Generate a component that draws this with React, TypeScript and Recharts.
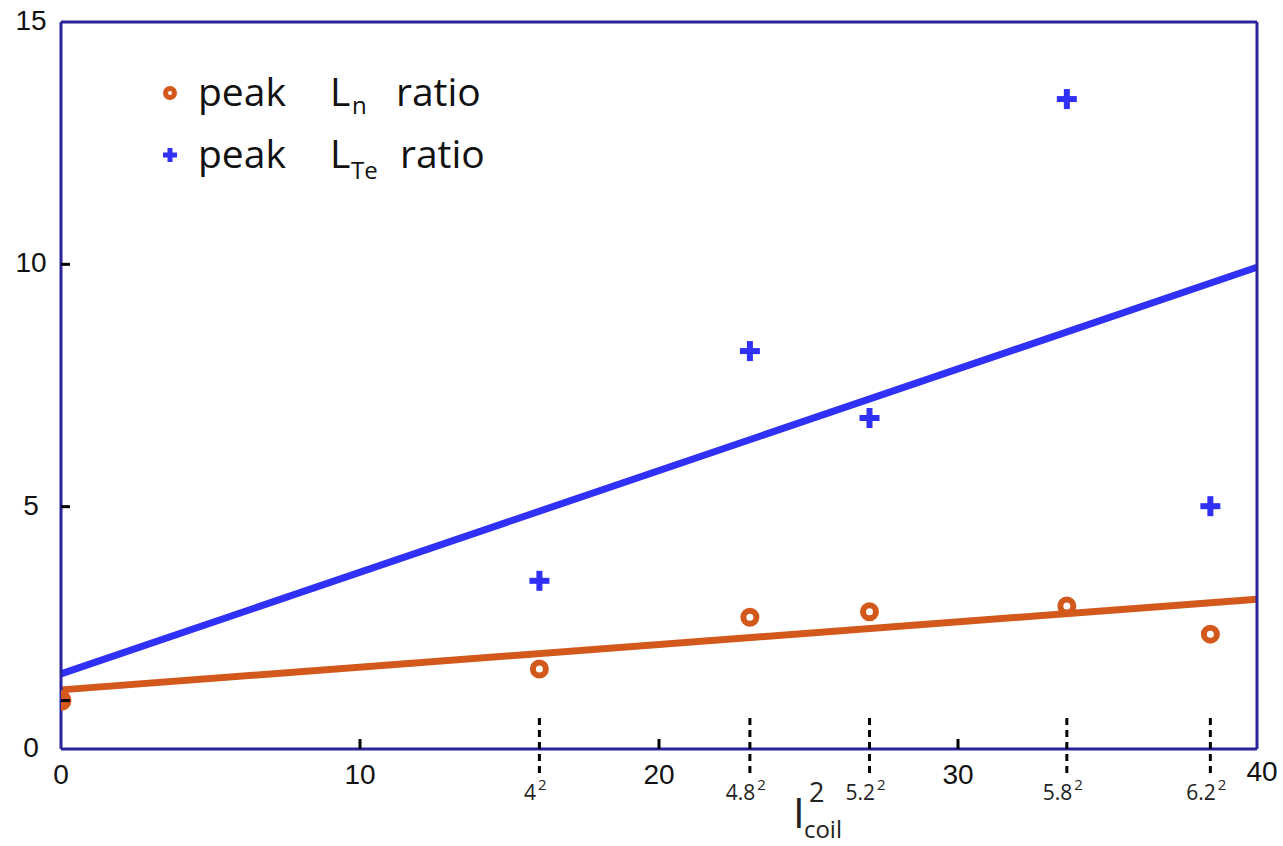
import React from 'react';
import { ComposedChart, Scatter, XAxis, YAxis, ReferenceLine, Legend } from 'recharts';

// ---- data ----
const lnX = [0, 16, 23.04, 27.04, 33.64, 38.44];
const lnRatio = [1.0, 1.65, 2.72, 2.83, 2.95, 2.37];
const lteX = [16, 23.04, 27.04, 33.64, 38.44];
const lteRatio = [3.47, 8.21, 6.83, 13.41, 5.01];
const fitX = [0, 40];
const lnFit = [1.22, 3.09];
const lteFit = [1.55, 9.94];
const xMajorTicks = [0, 10, 20, 30, 40];
const coilTicks = [16, 23.04, 27.04, 33.64, 38.44];
const coilLabels = ['4', '4.8', '5.2', '5.8', '6.2'];
const yLabelTicks = [0, 5, 10, 15];
const yInnerTicks = [1, 5, 10];
const xInnerTicks = [10, 20, 30];

const lnData = lnX.map((x, i) => ({ x, y: lnRatio[i] }));
const lteData = lteX.map((x, i) => ({ x, y: lteRatio[i] }));

const FRAME = '#2b239c';
const ORANGE = '#d2581c';
const BLUE = '#3030f6';
const NUM_FONT = '"Liberation Sans", Arial, sans-serif';
const LBL_FONT = '"Open Sans", "Noto Sans", sans-serif';

const Ring = (props: any) => {
  const { cx, cy, payload } = props;
  if (cx == null || cy == null) return null;
  const filled = payload && payload.x === 0;
  return (
    <circle cx={cx} cy={cy} r={filled ? 7.5 : 6.5} fill={filled ? ORANGE : '#fff'} stroke={ORANGE} strokeWidth={6} />
  );
};

const Plus = (props: any) => {
  const { cx, cy } = props;
  if (cx == null || cy == null) return null;
  return (
    <g stroke={BLUE} strokeWidth={6}>
      <line x1={cx - 10} y1={cy} x2={cx + 10} y2={cy} />
      <line x1={cx} y1={cy - 10} x2={cx} y2={cy + 10} />
    </g>
  );
};

const BottomTick = (props: any) => {
  const { x, y, payload } = props;
  const v = payload.value;
  const ci = coilTicks.indexOf(v);
  if (ci >= 0) {
    return (
      <g>
        <line x1={x} y1={y - 31} x2={x} y2={y + 29} stroke="#000" strokeWidth={3} strokeDasharray="7 5" />
        <text x={x - 4} y={y + 51} textAnchor="middle" fontFamily={LBL_FONT} fontSize={21} fill="#222">
          {coilLabels[ci]}
          <tspan dx={2} dy={-10} fontSize={15}>2</tspan>
        </text>
      </g>
    );
  }
  const isLast = v === 40;
  const showTick = xInnerTicks.indexOf(v) >= 0;
  return (
    <g>
      {showTick && <line x1={x} y1={y} x2={x} y2={y - 10} stroke="#000" strokeWidth={3} />}
      <text
        x={isLast ? x + 5 : x}
        y={isLast ? y + 32 : y + 35}
        textAnchor="middle"
        fontFamily={NUM_FONT}
        fontSize={28}
        fill="#111"
      >
        {v}
      </text>
    </g>
  );
};

const LeftTick = (props: any) => {
  const { x, y, payload } = props;
  const v = payload.value;
  const showLabel = yLabelTicks.indexOf(v) >= 0;
  const showTick = yInnerTicks.indexOf(v) >= 0;
  return (
    <g>
      {showTick && <line x1={x} y1={y} x2={x + 9} y2={y} stroke="#000" strokeWidth={3} />}
      {showLabel && (
        <text x={x - 30} y={y + 8} textAnchor="middle" fontFamily={NUM_FONT} fontSize={28} fill="#111">
          {v}
        </text>
      )}
    </g>
  );
};

const RightTick = (props: any) => {
  const { x, y } = props;
  return <line x1={x} y1={y} x2={x - 9} y2={y} stroke="#000" strokeWidth={3} />;
};

const TopTick = (props: any) => {
  const { x, y } = props;
  return <line x1={x} y1={y} x2={x} y2={y + 10} stroke="#000" strokeWidth={3} />;
};

const AxisTitle = (props: any) => {
  const vb = props.viewBox || {};
  const bx = vb.x + vb.width * 0.612;
  const by = vb.y;
  return (
    <g fontFamily={LBL_FONT} fill="#222">
      <text x={bx} y={by + 79} fontSize={42}>I</text>
      <text x={bx + 16} y={by + 53} fontSize={27}>2</text>
      <text x={bx + 11} y={by + 89} fontSize={24}>coil</text>
    </g>
  );
};

const LegendBox = () => (
  <svg width={380} height={140} style={{ display: 'block' }}>
    <g fontFamily={LBL_FONT} fontSize={39} fill="#111">
      <circle cx={20} cy={33} r={4.5} fill="#fff" stroke={ORANGE} strokeWidth={5} />
      <text x={48} y={46}>peak</text>
      <text x={180} y={46}>L</text>
      <text x={202} y={54} fontSize={24}>n</text>
      <text x={246} y={46}>ratio</text>
      <g stroke={BLUE} strokeWidth={5}>
        <line x1={13} y1={95} x2={27} y2={95} />
        <line x1={20} y1={88} x2={20} y2={102} />
      </g>
      <text x={48} y={108}>peak</text>
      <text x={180} y={108}>L</text>
      <text x={201} y={119} fontSize={24}>Te</text>
      <text x={250} y={108}>ratio</text>
    </g>
  </svg>
);

export default function App() {
  return (
    <div style={{ position: 'absolute', left: 0, top: 0, width: 1283, height: 846, background: '#fff' }}>
      <ComposedChart width={1283} height={846} margin={{ top: 21, right: 25, bottom: 1, left: 1 }}>
        <XAxis
          xAxisId="b"
          dataKey="x"
          type="number"
          domain={[0, 40]}
          ticks={[...xMajorTicks, ...coilTicks].sort((a, b) => a - b)}
          interval={0}
          height={96}
          tickSize={0}
          tickMargin={0}
          tickLine={false}
          axisLine={{ stroke: FRAME, strokeWidth: 3 }}
          tick={<BottomTick />}
          label={<AxisTitle />}
          allowDataOverflow
        />
        <XAxis
          xAxisId="t"
          orientation="top"
          type="number"
          domain={[0, 40]}
          ticks={xInnerTicks}
          interval={0}
          height={1}
          tickSize={0}
          tickMargin={0}
          tickLine={false}
          axisLine={{ stroke: FRAME, strokeWidth: 3 }}
          tick={<TopTick />}
        />
        <YAxis
          yAxisId="l"
          dataKey="y"
          type="number"
          domain={[0, 15]}
          ticks={[0, 1, 5, 10, 15]}
          interval={0}
          width={60}
          tickSize={0}
          tickMargin={0}
          tickLine={false}
          axisLine={{ stroke: FRAME, strokeWidth: 3 }}
          tick={<LeftTick />}
          allowDataOverflow
        />
        <YAxis
          yAxisId="r"
          orientation="right"
          type="number"
          domain={[0, 15]}
          ticks={yInnerTicks}
          interval={0}
          width={1}
          tickSize={0}
          tickMargin={0}
          tickLine={false}
          axisLine={{ stroke: FRAME, strokeWidth: 3 }}
          tick={<RightTick />}
        />
        <ReferenceLine
          xAxisId="b"
          yAxisId="l"
          segment={[{ x: fitX[0], y: lnFit[0] }, { x: fitX[1], y: lnFit[1] }]}
          stroke={ORANGE}
          strokeWidth={7}
        />
        <ReferenceLine
          xAxisId="b"
          yAxisId="l"
          segment={[{ x: fitX[0], y: lteFit[0] }, { x: fitX[1], y: lteFit[1] }]}
          stroke={BLUE}
          strokeWidth={7}
        />
        <Scatter
          xAxisId="b"
          yAxisId="l"
          name="peak Ln ratio"
          data={lnData}
          shape={<Ring />}
          isAnimationActive={false}
        />
        <Scatter
          xAxisId="b"
          yAxisId="l"
          name="peak LTe ratio"
          data={lteData}
          shape={<Plus />}
          isAnimationActive={false}
        />
        <Legend
          layout="vertical"
          align="center"
          verticalAlign="middle"
          wrapperStyle={{ left: 150, top: 60, width: 380 }}
          content={<LegendBox />}
        />
      </ComposedChart>
    </div>
  );
}
